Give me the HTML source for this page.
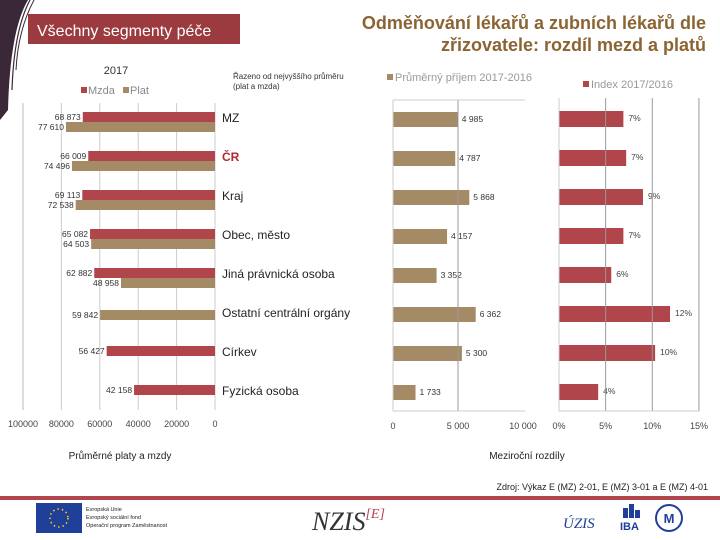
<!DOCTYPE html>
<html><head><meta charset="utf-8"><style>
body{margin:0;width:720px;height:540px;overflow:hidden;background:#fff;font-family:"Liberation Sans",sans-serif}
svg{display:block}
</style></head><body>
<svg id="s" width="720" height="540" xmlns="http://www.w3.org/2000/svg" font-family="Liberation Sans, sans-serif">
<g>
<path d="M0 0 L28 0 Q10 30 8 110 L0 120 Z" fill="#3a2838"/>
<path d="M30 0 Q14 30 12 90" stroke="#3a2838" stroke-width="1.2" fill="none"/>
<path d="M34 0 Q18 30 16 70" stroke="#3a2838" stroke-width="1" fill="none"/>
</g>
<rect x="28" y="14" width="212" height="30" fill="#9b3b3f"/>
<text x="37" y="36" font-size="16" fill="#fff">Všechny segmenty péče</text>
<text x="706" y="29" font-size="18" font-weight="bold" fill="#8b6434" text-anchor="end">Odměňování lékařů a zubních lékařů dle</text>
<text x="706" y="51" font-size="18" font-weight="bold" fill="#8b6434" text-anchor="end">zřizovatele: rozdíl mezd a platů</text>
<text x="116" y="74" font-size="11" fill="#333" text-anchor="middle">2017</text>
<g font-size="11" fill="#888">
<rect x="81" y="87" width="6" height="6" fill="#b0454b"/><text x="88" y="94">Mzda</text>
<rect x="123" y="87" width="6" height="6" fill="#a58a66"/><text x="130" y="94">Plat</text>
</g>
<text x="233" y="79" font-size="8" fill="#333">Řazeno od nejvyššího průměru</text>
<text x="233" y="89" font-size="8" fill="#333">(plat a mzda)</text>
<g><rect x="387" y="74" width="6" height="6" fill="#a58a66"/><text x="395" y="81" font-size="11" fill="#999">Průměrný příjem 2017-2016</text></g>
<g><rect x="583" y="81" width="6" height="6" fill="#b0454b"/><text x="591" y="88" font-size="11" fill="#999">Index 2017/2016</text></g>
<g id="left"></g>
<g id="mid"></g>
<g id="right"></g>
<g id="cats"></g>
<text x="120" y="459" font-size="10" fill="#222" text-anchor="middle">Průměrné platy a mzdy</text>
<text x="527" y="459" font-size="10" fill="#222" text-anchor="middle">Meziroční rozdíly</text>
<text x="708" y="490" font-size="9" fill="#222" text-anchor="end">Zdroj: Výkaz E (MZ) 2-01, E (MZ) 3-01 a E (MZ) 4-01</text>
<rect x="0" y="496" width="720" height="4" fill="#b0454b"/>
<g><rect x="36" y="503" width="46" height="30" fill="#1f3f99"/><circle cx="59" cy="518" r="9" fill="none" stroke="#ffd700" stroke-width="1.5" stroke-dasharray="1.5 3"/></g>
<g font-size="5.5" fill="#222"><text x="86" y="511">Evropská Unie</text><text x="86" y="519">Evropský sociální fond</text><text x="86" y="527">Operační program Zaměstnanost</text></g>
<text x="312" y="530" font-size="26" font-family="Liberation Serif, serif" font-style="italic" fill="#333">NZIS<tspan font-size="14" dy="-12" fill="#b0454b">[E]</tspan></text>
<text x="563" y="528" font-size="15" font-family="Liberation Serif, serif" font-style="italic" fill="#1f3f99">ÚZIS</text>
<g><rect x="623" y="508" width="5" height="10" fill="#1f3f99"/><rect x="629" y="504" width="5" height="14" fill="#1f3f99"/><rect x="635" y="510" width="5" height="8" fill="#1f3f99"/><text x="620" y="530" font-size="11" font-weight="bold" fill="#1f3f99">IBA</text></g>
<circle cx="669" cy="518" r="13" fill="none" stroke="#1f3f99" stroke-width="2"/>
<text x="669" y="523" font-size="13" font-weight="bold" fill="#1f3f99" text-anchor="middle">M</text>
</svg>
<script>
const categories=["MZ","ČR","Kraj","Obec, město","Jiná právnická osoba","Ostatní centrální orgány","Církev","Fyzická osoba"];
const mzda=[68873,66009,69113,65082,62882,null,56427,42158];
const plat=[77610,74496,72538,64503,48958,59842,null,null];
const prumer=[4985,4787,5868,4157,3352,6362,5300,1733];
const indexPct=[7,7,9,7,6,12,10,4];
const indexVal=[6.9,7.2,9.0,6.9,5.6,11.9,10.3,4.2];
const leftTicks=[100000,80000,60000,40000,20000,0];
const midTicks=[0,5000,10000];
const rightTicks=[0,5,10,15];
const NS="http://www.w3.org/2000/svg";
function mk(p,t,a,txt){const e=document.createElementNS(NS,t);for(const k in a)e.setAttribute(k,a[k]);if(txt!=null)e.textContent=txt;p.appendChild(e);return e;}
const fmt=v=>String(v).replace(/\B(?=(\d{3})+(?!\d))/g," ");
const rowY=i=>117+i*39;
const lx=v=>215-v*0.00192;
const mx=v=>393+v*0.013;
const rx=v=>559+v*9.33;
const L=document.getElementById('left'),M=document.getElementById('mid'),R=document.getElementById('right'),C=document.getElementById('cats');
leftTicks.forEach(t=>{let g=mk(L,'line',{x1:lx(t),x2:lx(t),y1:103,y2:410,stroke:t===100000?'#bbb':'#ccc'});

let tx=mk(L,'text',{x:lx(t),y:427,'font-size':9,fill:'#444','text-anchor':'middle'},String(t));
});
categories.forEach((c,i)=>{const y=rowY(i)-5;
if(mzda[i]!=null){let b=mk(L,'rect',{x:lx(mzda[i]),y:y,width:215-lx(mzda[i]),height:10,fill:'#b0454b'});

let t=mk(L,'text',{x:lx(mzda[i])-2,y:y+8,'font-size':8.5,fill:'#333','text-anchor':'end'},fmt(mzda[i]));
}
if(plat[i]!=null){const yy=mzda[i]!=null?y+10:rowY(i)-2;
let b=mk(L,'rect',{x:lx(plat[i]),y:yy,width:215-lx(plat[i]),height:10,fill:'#a58a66'});

let t=mk(L,'text',{x:lx(plat[i])-2,y:yy+8,'font-size':8.5,fill:'#333','text-anchor':'end'},fmt(plat[i]));
}
let ct=mk(C,'text',{x:222,y:rowY(i)+5,'font-size':12,fill:i===1?'#b0282e':'#222','font-weight':i===1?'bold':'normal'},c);

let mb=mk(M,'rect',{x:mx(0),y:rowY(i)-5,width:mx(prumer[i])-mx(0),height:15,fill:'#a58a66'});

let mt=mk(M,'text',{x:mx(prumer[i])+4,y:rowY(i)+5,'font-size':8.5,fill:'#333'},fmt(prumer[i]));

let rb=mk(R,'rect',{x:rx(0),y:rowY(i)-6,width:rx(indexVal[i])-rx(0),height:16,fill:'#b0454b'});

let rt=mk(R,'text',{x:rx(indexVal[i])+5,y:rowY(i)+4,'font-size':8.5,fill:'#444'},indexPct[i]+"%");

});
midTicks.forEach(t=>{if(t===5000){let g=mk(M,'line',{x1:mx(t),x2:mx(t),y1:100,y2:411,stroke:'#999'});}
let tx=mk(M,'text',{x:mx(t),y:429,'font-size':9,fill:'#444','text-anchor':'middle'},fmt(t));
});
let a1=mk(M,'line',{x1:393,x2:393,y1:100,y2:411,stroke:'#ccc'});
let a2=mk(M,'line',{x1:393,x2:525,y1:411,y2:411,stroke:'#ccc'});
let a3=mk(M,'line',{x1:393,x2:525,y1:100,y2:100,stroke:'#ccc'});
rightTicks.forEach(t=>{let g=mk(R,'line',{x1:rx(t),x2:rx(t),y1:98,y2:411,stroke:t===0?'#ccc':'#999'});
let tx=mk(R,'text',{x:rx(t),y:429,'font-size':9,fill:'#444','text-anchor':'middle'},t+"%");
});
let a4=mk(R,'line',{x1:559,x2:699,y1:411,y2:411,stroke:'#ccc'});
</script>
</body></html>
